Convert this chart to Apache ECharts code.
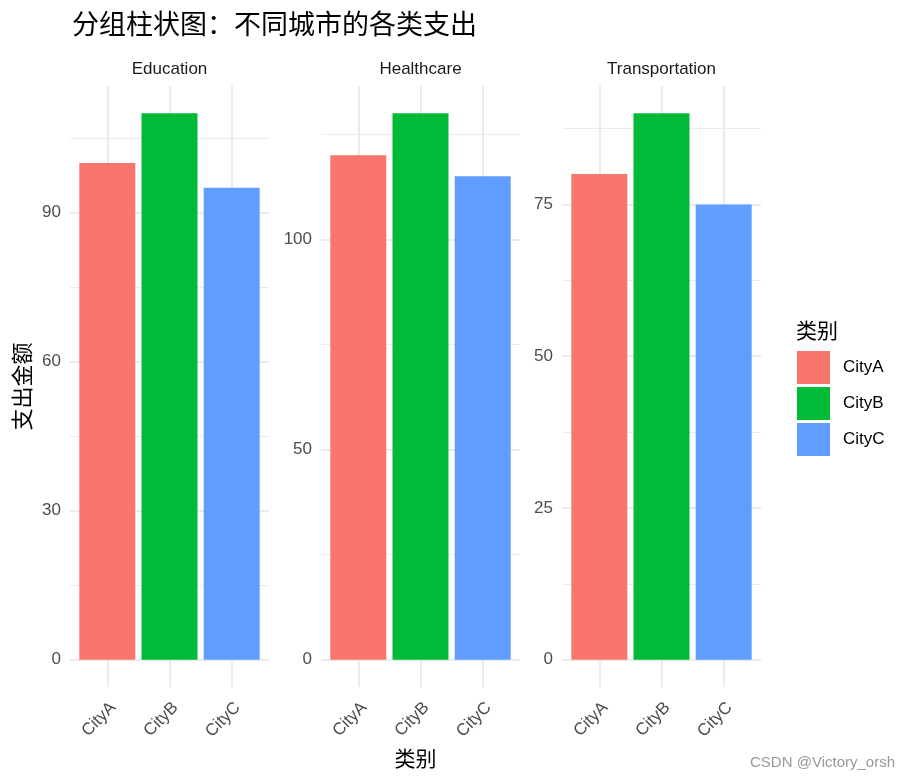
<!DOCTYPE html>
<html>
<head>
<meta charset="utf-8">
<script src="https://cdn.jsdelivr.net/npm/echarts@6/dist/echarts.min.js"></script>
<style>html,body{margin:0;padding:0;background:#fff}#c{width:910px;height:782px}</style>
</head>
<body>
<div id="c"></div>
<script>
// ---- data ----
const categories = ['CityA', 'CityB', 'CityC'];
const panels = ['Education', 'Healthcare', 'Transportation'];
const education = [100, 110, 95];
const healthcare = [120, 130, 115];
const transportation = [80, 90, 75];
const majorTicksEducation = [0, 30, 60, 90];
const minorTicksEducation = [15, 45, 75, 105];
const majorTicksHealthcare = [0, 50, 100];
const minorTicksHealthcare = [25, 75, 125];
const majorTicksTransportation = [0, 25, 50, 75];
const minorTicksTransportation = [12.5, 37.5, 62.5, 87.5];
const titleText = '分组柱状图：不同城市的各类支出';
const xTitle = '类别';
const yTitle = '支出金额';
const legendTitle = '类别';

// ---- layout / style ----
const colors = ['#F8766D', '#00BA38', '#619CFF'];
const latin = '"Liberation Sans", Arial, sans-serif';
const cjk = '"Noto Sans CJK SC", sans-serif';
const panelLefts = [70, 321, 562];
const panelWidth = 199;
const panelTop = 86;
const panelHeight = 601;
const gridColor = '#EBEBEB';

const values = [education, healthcare, transportation];
const majors = [majorTicksEducation, majorTicksHealthcare, majorTicksTransportation];
const minors = [minorTicksEducation, minorTicksHealthcare, minorTicksTransportation];

const grids = [], xAxes = [], yAxes = [], series = [], graphics = [];

panels.forEach((p, pi) => {
  const vals = values[pi];
  const maxV = Math.max(...vals);
  const pad = maxV * 0.05;
  grids.push({left: panelLefts[pi], top: panelTop, width: panelWidth, height: panelHeight});
  xAxes.push({
    type: 'value', gridIndex: pi, min: 0.4, max: categories.length + 0.6,
    axisLine: {show: false}, axisTick: {show: false}, splitLine: {show: false},
    axisLabel: {
      customValues: categories.map((c, i) => i + 1),
      formatter: v => categories[Math.round(v) - 1] || '',
      rotate: 45, margin: 12, verticalAlign: 'top',
      fontSize: 17, color: '#4D4D4D', fontFamily: latin
    }
  });
  yAxes.push({
    type: 'value', gridIndex: pi, min: -pad, max: maxV + pad,
    axisLine: {show: false}, axisTick: {show: false}, splitLine: {show: false},
    axisLabel: {
      customValues: majors[pi], margin: 9, fontSize: 17, color: '#4D4D4D', fontFamily: latin
    }
  });
  // gridlines
  series.push({
    type: 'line', xAxisIndex: pi, yAxisIndex: pi, data: [], silent: true,
    markLine: {
      z: 1, silent: true, animation: false, symbol: ['none', 'none'],
      label: {show: false}, emphasis: {disabled: true},
      data: [
        ...minors[pi].map(v => ({yAxis: v, lineStyle: {color: gridColor, width: 1, type: 'solid'}})),
        ...majors[pi].map(v => ({yAxis: v, lineStyle: {color: gridColor, width: 2, type: 'solid'}})),
        ...categories.map((c, i) => ({xAxis: i + 1, lineStyle: {color: gridColor, width: 2, type: 'solid'}}))
      ]
    }
  });
  categories.forEach((c, ci) => {
    series.push({
      name: c, type: 'bar', xAxisIndex: pi, yAxisIndex: pi, stack: 'p' + pi,
      barWidth: 56, z: 3, animation: false,
      itemStyle: {color: colors[ci]},
      data: [[ci + 1, vals[ci]]]
    });
  });
  graphics.push({
    type: 'text',
    style: {text: p, x: panelLefts[pi] + panelWidth / 2, y: 69, align: 'center', verticalAlign: 'middle',
            fontSize: 17, fill: '#1A1A1A', fontFamily: latin}
  });
});

graphics.push(
  {type: 'text', style: {text: xTitle, x: panelLefts[0] + (panelLefts[2] + panelWidth - panelLefts[0]) / 2, y: 758,
    align: 'center', verticalAlign: 'middle', fontSize: 21, fill: '#000', fontFamily: cjk}},
  {type: 'text', x: 22, y: panelTop + panelHeight / 2, rotation: Math.PI / 2,
    style: {text: yTitle, x: 0, y: 0, align: 'center', verticalAlign: 'middle', fontSize: 22, fill: '#000', fontFamily: cjk}},
  {type: 'text', style: {text: legendTitle, x: 796, y: 330, align: 'left', verticalAlign: 'middle',
    fontSize: 21, fill: '#000', fontFamily: cjk}},
  {type: 'text', style: {text: 'CSDN @Victory_orsh', x: 895, y: 763, align: 'right', verticalAlign: 'middle',
    fontSize: 15, fill: '#999999', fontFamily: latin}}
);

const chart = echarts.init(document.getElementById('c'), null, {renderer: 'canvas'});
chart.setOption({
  backgroundColor: '#fff',
  animation: false,
  title: {
    text: titleText, left: 67, top: 5,
    textStyle: {fontSize: 27, fontWeight: 'normal', color: '#000', fontFamily: cjk}
  },
  legend: {
    data: categories, orient: 'vertical', left: 792, top: 346,
    icon: 'rect', itemWidth: 33, itemHeight: 33, itemGap: 3,
    selectedMode: false,
    textStyle: {fontSize: 17, color: '#000', fontFamily: latin, padding: [0, 0, 0, 8]}
  },
  grid: grids, xAxis: xAxes, yAxis: yAxes, series: series, graphic: graphics
});
</script>
</body>
</html>
